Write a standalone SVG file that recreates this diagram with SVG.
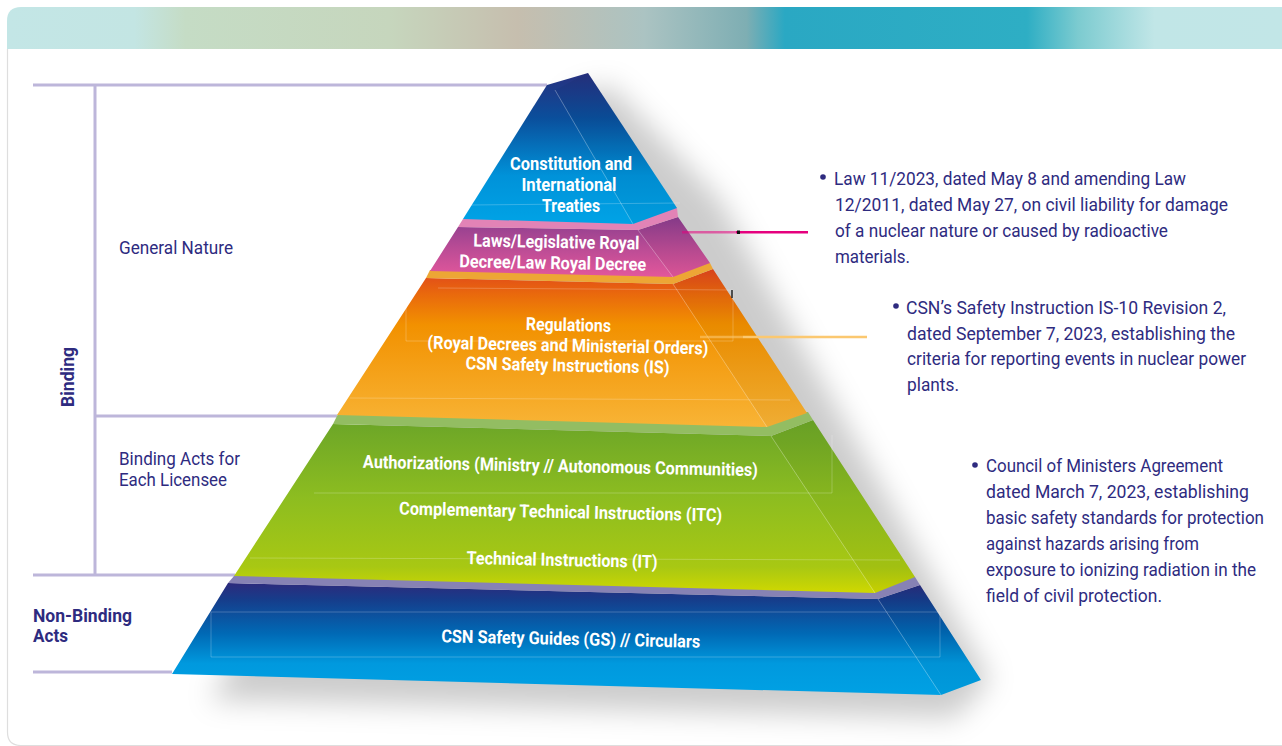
<svg xmlns="http://www.w3.org/2000/svg" width="1282" height="746" viewBox="0 0 1282 746">
<defs>
<style>
.lbl{font-family:"Liberation Sans Narrow",Roboto,"Liberation Sans",sans-serif;fill:#2e2b7f;font-size:19px}
.lblb{font-family:"Liberation Sans Narrow",Roboto,"Liberation Sans",sans-serif;fill:#2e2b7f;font-size:19px;font-weight:700}
.bul{font-family:"Liberation Sans Narrow",Roboto,"Liberation Sans",sans-serif;fill:#2e2b7f;font-size:19px}
.pt{font-family:"Liberation Sans Narrow",Roboto,"Liberation Sans",sans-serif;fill:#ffffff;font-size:18px;font-weight:700;text-anchor:middle}
.gl{stroke:#bdb6da;stroke-width:3;fill:none}
.edge{stroke:#ffffff;stroke-opacity:0.3;stroke-width:1;fill:none}
.faint{stroke:#ffffff;stroke-opacity:0.22;stroke-width:1;fill:none}
.side{fill:#000000;fill-opacity:0.035}
</style>
<linearGradient id="band" x1="7" y1="0" x2="1282" y2="0" gradientUnits="userSpaceOnUse">
<stop offset="0" stop-color="#c3e6e6"/>
<stop offset="0.1" stop-color="#c3e5e3"/>
<stop offset="0.14" stop-color="#c5dcc5"/>
<stop offset="0.3" stop-color="#c6d6bd"/>
<stop offset="0.4" stop-color="#c6beae"/>
<stop offset="0.5" stop-color="#abc3c2"/>
<stop offset="0.58" stop-color="#7eaeb3"/>
<stop offset="0.61" stop-color="#2aa8c3"/>
<stop offset="0.8" stop-color="#2eaec4"/>
<stop offset="0.84" stop-color="#7ccbd0"/>
<stop offset="0.9" stop-color="#c1e6e7"/>
<stop offset="1" stop-color="#c2e6e7"/>
</linearGradient>
<linearGradient id="g1" x1="0" y1="73" x2="0" y2="224" gradientUnits="userSpaceOnUse">
<stop offset="0" stop-color="#27307f"/>
<stop offset="0.3" stop-color="#0a4f9c"/>
<stop offset="0.68" stop-color="#0092d9"/>
<stop offset="1" stop-color="#00a3e6"/>
</linearGradient>
<linearGradient id="g2" x1="0" y1="217" x2="0" y2="277" gradientUnits="userSpaceOnUse">
<stop offset="0" stop-color="#8a3d8e"/>
<stop offset="0.5" stop-color="#b84b95"/>
<stop offset="1" stop-color="#e3579b"/>
</linearGradient>
<linearGradient id="g3" x1="0" y1="270" x2="0" y2="427" gradientUnits="userSpaceOnUse">
<stop offset="0" stop-color="#e0461c"/>
<stop offset="0.15" stop-color="#e9680d"/>
<stop offset="0.35" stop-color="#f29100"/>
<stop offset="1" stop-color="#f8b436"/>
</linearGradient>
<linearGradient id="g4" x1="0" y1="420" x2="0" y2="593" gradientUnits="userSpaceOnUse">
<stop offset="0" stop-color="#6ba528"/>
<stop offset="0.45" stop-color="#8dbd20"/>
<stop offset="0.85" stop-color="#a8c813"/>
<stop offset="1" stop-color="#d0d800"/>
</linearGradient>
<linearGradient id="g5" x1="0" y1="583" x2="0" y2="695" gradientUnits="userSpaceOnUse">
<stop offset="0" stop-color="#2d2a7c"/>
<stop offset="0.15" stop-color="#163d8b"/>
<stop offset="0.45" stop-color="#0069b5"/>
<stop offset="0.72" stop-color="#0099de"/>
<stop offset="1" stop-color="#00a1e4"/>
</linearGradient>
<filter id="blur" x="-30%" y="-30%" width="160%" height="160%">
<feGaussianBlur stdDeviation="14"/>
</filter>
</defs>

<rect x="0" y="0" width="1282" height="746" fill="#ffffff"/>
<!-- card -->
<path d="M7.5,49 V732 Q7.5,745.5 21,745.5 H1282" fill="none" stroke="#dedede" stroke-width="1.2"/>
<path d="M7,49 V21 Q7,7 21,7 H1282 V49 Z" fill="url(#band)"/>

<!-- guide lines -->
<g id="guides">
<line class="gl" x1="33" y1="85" x2="547" y2="85"/>
<line class="gl" x1="95" y1="85" x2="95" y2="575"/>
<line class="gl" x1="95" y1="416" x2="337" y2="416"/>
<line class="gl" x1="33" y1="575" x2="235" y2="575"/>
<line class="gl" x1="33" y1="672" x2="172" y2="672"/>
</g>

<g id="labels">
<text class="lbl" x="119" y="254" textLength="114" lengthAdjust="spacingAndGlyphs">General Nature</text>
<text class="lbl" x="119" y="465" textLength="121" lengthAdjust="spacingAndGlyphs">Binding Acts for</text>
<text class="lbl" x="119" y="486" textLength="108" lengthAdjust="spacingAndGlyphs">Each Licensee</text>
<text class="lblb" x="33" y="622" textLength="99" lengthAdjust="spacingAndGlyphs">Non-Binding</text>
<text class="lblb" x="33" y="642" textLength="35" lengthAdjust="spacingAndGlyphs">Acts</text>
<text class="lblb" transform="translate(74,377) rotate(-90)" x="0" y="0" text-anchor="middle" textLength="60" lengthAdjust="spacingAndGlyphs">Binding</text>
</g>

<!-- shadow -->
<polygon points="575,95 610,85 720,200 990,680 955,718 210,700" fill="#000000" fill-opacity="0.2" filter="url(#blur)"/>

<!-- tier 5 -->
<g id="tier5">
<polygon points="228,583 878,599 920,585 981,680 941,695 172,674" fill="url(#g5)"/>
<polygon class="side" points="878,599 920,585 981,680 941,695"/>
<line class="edge" x1="878" y1="599" x2="941" y2="695"/>
<polyline class="faint" points="211,612 940,612 940,657 211,657 211,612"/>
<text class="pt" transform="translate(570.6,645) rotate(1.2)" x="0" y="0" textLength="259" lengthAdjust="spacingAndGlyphs">CSN Safety Guides (GS) // Circulars</text>
</g>
<polygon points="234,576 915,577 920,585 878,599 228,583" fill="#8782b4"/>

<!-- tier 4 -->
<g id="tier4">
<polygon points="333,424 771,436 813,420 915,577 875,593 234,576" fill="url(#g4)"/>
<polygon class="side" points="771,436 813,420 915,577 875,593"/>
<line class="edge" x1="771" y1="436" x2="875" y2="593"/>
<polyline class="faint" points="314,493 832,493 832,435"/>
<line class="faint" x1="250" y1="558" x2="900" y2="560"/>
<text class="pt" transform="translate(560.3,472) rotate(1.2)" x="0" y="0" textLength="395" lengthAdjust="spacingAndGlyphs">Authorizations (Ministry // Autonomous Communities)</text>
<text class="pt" transform="translate(560.5,518) rotate(1.2)" x="0" y="0" textLength="323" lengthAdjust="spacingAndGlyphs">Complementary Technical Instructions (ITC)</text>
<text class="pt" transform="translate(562,566) rotate(1.2)" x="0" y="0" textLength="191" lengthAdjust="spacingAndGlyphs">Technical Instructions (IT)</text>
</g>
<polygon points="338,414 808,412 813,420 771,436 333,424" fill="#93bd62"/>

<!-- tier 3 -->
<g id="tier3">
<polygon points="426,278 673,284 713,269 807,413 767,427 337,415" fill="url(#g3)"/>
<polygon class="side" points="673,284 713,269 807,413 767,427"/>
<line class="edge" x1="673" y1="284" x2="767" y2="427"/>
<polyline class="faint" points="438,288 733,290 733,341 406,341 406,303"/>
<line class="faint" x1="350" y1="398" x2="790" y2="400"/>
<text class="pt" transform="translate(568.3,331) rotate(1.2)" x="0" y="0" textLength="85" lengthAdjust="spacingAndGlyphs">Regulations</text>
<text class="pt" transform="translate(567.8,351.5) rotate(1.2)" x="0" y="0" textLength="281" lengthAdjust="spacingAndGlyphs">(Royal Decrees and Ministerial Orders)</text>
<text class="pt" transform="translate(567.5,371.5) rotate(1.2)" x="0" y="0" textLength="204" lengthAdjust="spacingAndGlyphs">CSN Safety Instructions (IS)</text>
</g>
<polygon points="430,270 710,263 713,269 673,284 426,278" fill="#eda635"/>

<!-- tier 2 -->
<g id="tier2">
<polygon points="458,227 638,230 678,217 710,263 673,277 430,271" fill="url(#g2)"/>
<polygon class="side" points="638,230 678,217 710,263 673,277"/>
<line class="edge" x1="638" y1="230" x2="673" y2="277"/>
<text class="pt" transform="translate(556.3,248) rotate(1)" x="0" y="0" textLength="166" lengthAdjust="spacingAndGlyphs">Laws/Legislative Royal</text>
<text class="pt" transform="translate(552.7,269) rotate(1)" x="0" y="0" textLength="187" lengthAdjust="spacingAndGlyphs">Decree/Law Royal Decree</text>
</g>
<polygon points="463,219 677,208 678,217 638,230 458,227" fill="#e283b6"/>

<!-- tier 1 -->
<g id="tier1">
<polygon points="547,85 588,73 677,208 633,224 463,219" fill="url(#g1)"/>
<polygon class="side" points="588,73 677,208 633,224 555,90"/>
<line class="edge" x1="555" y1="90" x2="633" y2="224"/>
<line class="faint" x1="470" y1="205" x2="680" y2="203"/>
<text class="pt" x="571" y="169.5" textLength="122" lengthAdjust="spacingAndGlyphs">Constitution and</text>
<text class="pt" x="569" y="190.5" textLength="95" lengthAdjust="spacingAndGlyphs">International</text>
<text class="pt" x="571" y="211.5" textLength="58" lengthAdjust="spacingAndGlyphs">Treaties</text>
</g>

<!-- connectors -->
<g id="connectors">
<line x1="682" y1="232.3" x2="736" y2="232.3" stroke="#e5007e" stroke-opacity="0.55" stroke-width="2.5"/>
<line x1="736" y1="232.3" x2="808" y2="232.3" stroke="#e5007e" stroke-width="2.5"/>
<rect x="737" y="230.5" width="3" height="3.5" fill="#111111"/>
<line x1="700" y1="337" x2="743" y2="337" stroke="#fbc870" stroke-opacity="0.6" stroke-width="2.5"/>
<line x1="743" y1="337" x2="867" y2="337" stroke="#fbc870" stroke-width="2.5"/>
<line x1="732" y1="290" x2="732" y2="298" stroke="#222222" stroke-width="1.5"/>
</g>

<!-- notes -->
<g id="note1">
<circle cx="823" cy="177" r="2.8" fill="#2e2b7f"/>
<text class="bul" x="834" y="185" textLength="352" lengthAdjust="spacingAndGlyphs">Law 11/2023, dated May 8 and amending Law</text>
<text class="bul" x="835" y="211" textLength="393" lengthAdjust="spacingAndGlyphs">12/2011, dated May 27, on civil liability for damage</text>
<text class="bul" x="835" y="237" textLength="333" lengthAdjust="spacingAndGlyphs">of a nuclear nature or caused by radioactive</text>
<text class="bul" x="835" y="263" textLength="75" lengthAdjust="spacingAndGlyphs">materials.</text>
</g>
<g id="note2">
<circle cx="896" cy="306" r="2.8" fill="#2e2b7f"/>
<text class="bul" x="906" y="314" textLength="320" lengthAdjust="spacingAndGlyphs">CSN’s Safety Instruction IS-10 Revision 2,</text>
<text class="bul" x="907" y="339.5" textLength="328" lengthAdjust="spacingAndGlyphs">dated September 7, 2023, establishing the</text>
<text class="bul" x="907" y="365" textLength="339" lengthAdjust="spacingAndGlyphs">criteria for reporting events in nuclear power</text>
<text class="bul" x="907" y="390.5" textLength="52" lengthAdjust="spacingAndGlyphs">plants.</text>
</g>
<g id="note3">
<circle cx="975" cy="465" r="2.8" fill="#2e2b7f"/>
<text class="bul" x="986" y="472" textLength="237" lengthAdjust="spacingAndGlyphs">Council of Ministers Agreement</text>
<text class="bul" x="986" y="498" textLength="263" lengthAdjust="spacingAndGlyphs">dated March 7, 2023, establishing</text>
<text class="bul" x="986" y="524" textLength="278" lengthAdjust="spacingAndGlyphs">basic safety standards for protection</text>
<text class="bul" x="986" y="550" textLength="213" lengthAdjust="spacingAndGlyphs">against hazards arising from</text>
<text class="bul" x="986" y="576" textLength="270" lengthAdjust="spacingAndGlyphs">exposure to ionizing radiation in the</text>
<text class="bul" x="986" y="602" textLength="176" lengthAdjust="spacingAndGlyphs">field of civil protection.</text>
</g>
</svg>
